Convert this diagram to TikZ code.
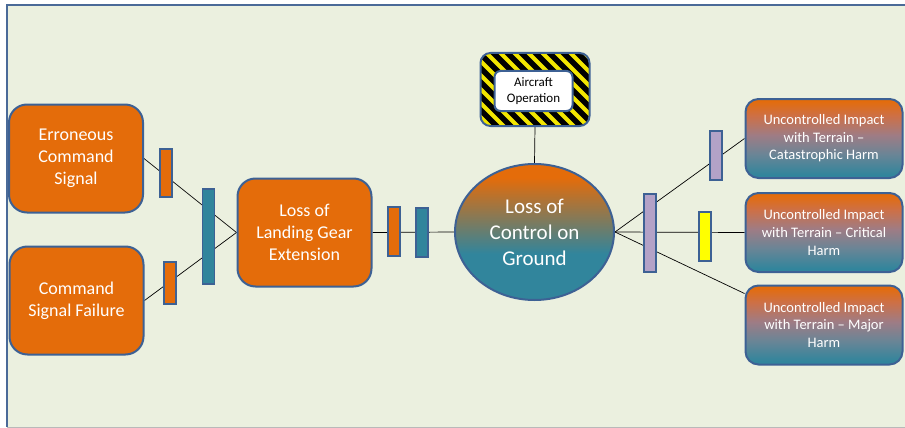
\documentclass[tikz,border=0pt]{standalone}
\usepackage{fontspec}
\setmainfont{Carlito}
\usetikzlibrary{calc,shapes.geometric}

\definecolor{bg}{HTML}{EBF0DF}
\definecolor{framec}{HTML}{4A6A98}
\definecolor{edge}{HTML}{3D6194}
\definecolor{org}{HTML}{E46C0A}
\definecolor{tealc}{HTML}{31859C}
\definecolor{lav}{HTML}{B3A2C7}
\definecolor{yel}{HTML}{FFFF00}
\definecolor{hazard}{HTML}{F2E600}
\definecolor{hA}{HTML}{6A8596}
\definecolor{hB}{HTML}{9E7C85}
\definecolor{hC}{HTML}{CC7048}

% orange-to-teal fades (bounding box maps to 25bp..75bp)
\pgfdeclareverticalshading{groundfade}{100bp}{color(0bp)=(tealc); color(42bp)=(tealc); color(70bp)=(org); color(100bp)=(org)}
\pgfdeclareverticalshading{harmfade}{100bp}{color(0bp)=(tealc); color(27bp)=(tealc); color(40bp)=(hA); color(52bp)=(hB); color(64bp)=(hC); color(74bp)=(org); color(100bp)=(org)}

\pgfdeclarelayer{back}
\pgfdeclarelayer{wires}
\pgfsetlayers{back,wires,main}

\begin{document}
\begin{tikzpicture}[x=1pt,y=-1pt,
  box/.style={rectangle, rounded corners=18pt, draw=edge, line width=2pt, fill=org,
    text=white, align=center, font=\fontsize{18}{22}\selectfont, inner sep=0pt,
    minimum width=134pt, minimum height=108pt},
  harm/.style={rectangle, rounded corners=13pt, draw=edge, line width=2pt, shading=harmfade,
    text=white, align=center, font=\fontsize{14.5}{17.6}\selectfont, inner sep=0pt,
    minimum width=157pt, minimum height=79pt},
  bar/.style={rectangle, draw=edge, line width=1.6pt, inner sep=0pt, minimum width=12pt},
  wire/.style={draw=black, line width=0.7pt}]

\useasboundingbox (0,0) rectangle (905,428);

% panel
\begin{pgfonlayer}{back}
  \fill[white] (0,0) rectangle (905,428);
  \fill[bg] (7,5) rectangle (905,427);
  \draw[framec, line width=1.6pt] (7,427) -- (7,5) -- (905,5);
  \draw[gray!55, line width=1pt] (7,427) -- (905,427);
\end{pgfonlayer}

% causes
\node[box] (err) at (76,158.5) {Erroneous\\Command\\Signal};
\node[box] (csf) at (76.5,300.5) {Command\\Signal Failure};
\node[box] (lge) at (304.5,232.5) {Loss of\\Landing Gear\\Extension};

% barriers on the cause side
\node[bar, fill=org, minimum height=48pt] (b1) at (166,173) {};
\node[bar, fill=org, minimum height=42pt] (b2) at (170,283) {};
\node[bar, fill=tealc, minimum height=95pt] (b3) at (208.5,236.5) {};
\node[bar, fill=org, minimum height=49pt] (b4) at (394,231.5) {};
\node[bar, fill=tealc, minimum height=49pt] (b5) at (422,232.5) {};

% top event
\node[ellipse, draw=edge, line width=2pt, shading=groundfade, inner sep=0pt,
  minimum width=159pt, minimum height=136pt, text=white, align=center,
  font=\fontsize{21}{26}\selectfont] (loc) at (534.5,232) {Loss of\\Control on\\Ground};

% hazard context box
\node[rectangle, rounded corners=10pt, draw=edge, line width=2pt, inner sep=0pt,
  minimum width=109pt, minimum height=73pt,
  path picture={
    \fill[black] (path picture bounding box.south west) rectangle (path picture bounding box.north east);
    \foreach \k in {-7,...,8}
      \draw[hazard, line width=4pt] ($(path picture bounding box.north west)+(\k*14,-6)$) -- ++(95,95);
  }] (ops) at (535,89.5) {};
\node[rectangle, rounded corners=6pt, draw=edge, line width=2pt, fill=white, inner sep=0pt,
  minimum width=78pt, minimum height=40pt, align=center, text=black,
  font=\fontsize{13}{16}\selectfont] (opin) at (533.5,91) {Aircraft\\Operation};

% consequences
\node[harm] (cat) at (824,138.5) {Uncontrolled Impact\\with Terrain --\\Catastrophic Harm};
\node[harm] (crit) at (824,232.5) {Uncontrolled Impact\\with Terrain -- Critical\\Harm};
\node[harm] (maj) at (824,325) {Uncontrolled Impact\\with Terrain -- Major\\Harm};

% barriers on the consequence side
\node[bar, fill=lav, minimum height=78pt] (b6) at (650,233) {};
\node[bar, fill=lav, minimum height=49pt] (b7) at (716,155.5) {};
\node[bar, fill=yel, minimum height=49pt] (b8) at (705,236.5) {};

% connectors
\begin{pgfonlayer}{wires}
  \draw[wire] (err.east) -- (lge.west);
  \draw[wire] (csf.east) -- (lge.west);
  \draw[wire] (lge.east) -- (loc.west);
  \draw[wire] (ops.south) -- (loc.north);
  \draw[wire] (loc.east) -- (cat.west);
  \draw[wire] (loc.east) -- (crit.west);
  \draw[wire] (loc.east) -- ($(maj.north west)+(0,9)$);
\end{pgfonlayer}
\end{tikzpicture}
\end{document}
